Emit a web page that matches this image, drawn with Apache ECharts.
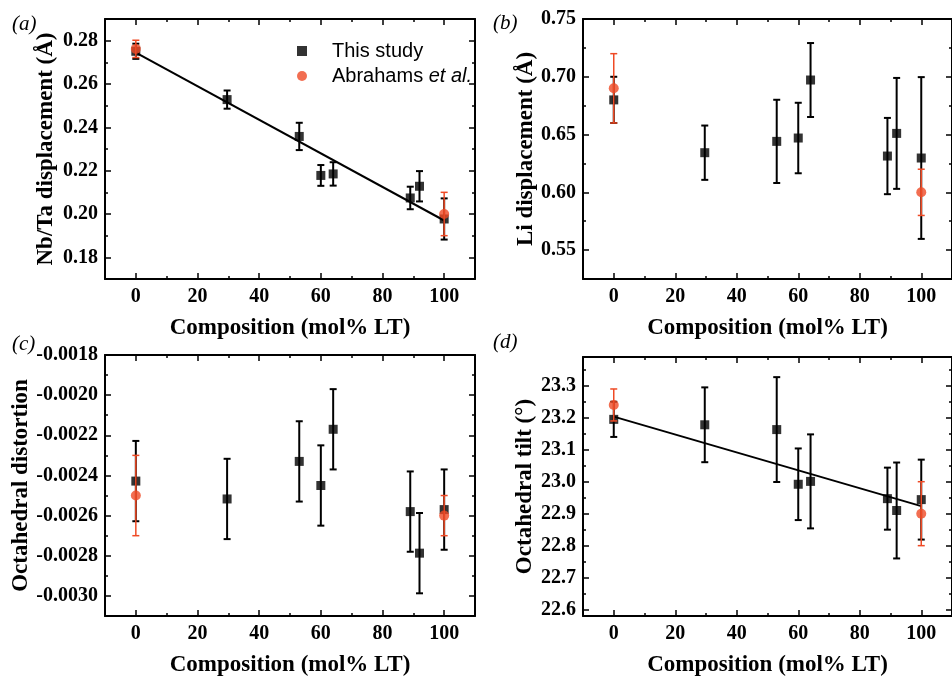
<!DOCTYPE html>
<html><head><meta charset="utf-8">
<script src="https://cdn.jsdelivr.net/npm/echarts@6/dist/echarts.min.js"></script>
<style>html,body{margin:0;padding:0;background:#fff}#c{width:952px;height:678px}</style>
</head><body><div id="c"></div>
<script>
// ---------- data ----------
const composition = [0, 29.6, 53, 60, 64, 89, 92, 100];
const abrahamsComposition = [0, 100];

const nbTaDisp    = [0.2751, 0.2528, 0.2358, 0.2178, 0.2185, 0.2074, 0.2128, 0.1977];
const nbTaErr     = [0.0035, 0.0042, 0.0063, 0.0048, 0.0054, 0.0052, 0.0070, 0.0095];
const abrNbTa     = [0.2762, 0.2000];
const abrNbTaErr  = [0.0040, 0.0100];
const nbTaFit     = [[0, 0.2745], [100, 0.1970]];

const liDisp      = [0.680, 0.6343, 0.6441, 0.647, 0.6972, 0.6314, 0.651, 0.6297];
const liErr       = [0.020, 0.0235, 0.036, 0.0305, 0.032, 0.033, 0.048, 0.070];
const abrLi       = [0.690, 0.600];
const abrLiErr    = [0.030, 0.020];

const octDist     = [-0.002428, -0.002517, -0.00233, -0.00245, -0.00217, -0.00258, -0.002787, -0.00257];
const octDistErr  = [0.0002, 0.0002, 0.0002, 0.0002, 0.0002, 0.0002, 0.0002, 0.0002];
const abrOct      = [-0.0025, -0.0026];
const abrOctErr   = [0.0002, 0.0001];

const tilt        = [23.195, 23.178, 23.163, 22.992, 23.001, 22.947, 22.910, 22.944];
const tiltErr     = [0.055, 0.117, 0.164, 0.112, 0.147, 0.097, 0.150, 0.125];
const abrTilt     = [23.24, 22.90];
const abrTiltErr  = [0.05, 0.10];
const tiltFit     = [[0, 23.2036], [100, 22.9236]];

// ---------- ticks ----------
const xTicks      = [0, 20, 40, 60, 80, 100];
const xMinor      = [10, 30, 50, 70, 90];
const nbTaTicks   = [0.18, 0.20, 0.22, 0.24, 0.26, 0.28];
const nbTaMinor   = [0.19, 0.21, 0.23, 0.25, 0.27];
const liTicks     = [0.55, 0.60, 0.65, 0.70, 0.75];
const liMinor     = [0.575, 0.625, 0.675, 0.725];
const octTicks    = [-0.0030, -0.0028, -0.0026, -0.0024, -0.0022, -0.0020, -0.0018];
const octMinor    = [-0.0029, -0.0027, -0.0025, -0.0023, -0.0021, -0.0019];
const tiltTicks   = [22.6, 22.7, 22.8, 22.9, 23.0, 23.1, 23.2, 23.3];
const tiltMinor   = [22.65, 22.75, 22.85, 22.95, 23.05, 23.15, 23.25, 23.35];

const xTitle = 'Composition (mol% LT)';
const names = ['This study', 'Abrahams et al.'];

// ---------- layout / style ----------
const SERIF = 'Liberation Serif';
const RED = '#EF4A25';
const panels = [
  {grid:{left:105, top:19, width:370, height:260}, ymin:0.17, ymax:0.29, major:nbTaTicks, minor:nbTaMinor, dec:2,
   yName:'Nb/Ta displacement (Å)', yGap:47, label:'(a)', lx:12, ly:14,
   y:nbTaDisp, e:nbTaErr, ay:abrNbTa, ae:abrNbTaErr, fit:nbTaFit},
  {grid:{left:583, top:19, width:372, height:260}, ymin:0.525, ymax:0.75, major:liTicks, minor:liMinor, dec:2,
   yName:'Li displacement (Å)', yGap:44, label:'(b)', lx:493, ly:13,
   y:liDisp, e:liErr, ay:abrLi, ae:abrLiErr, fit:null},
  {grid:{left:105, top:355, width:370, height:261}, ymin:-0.0031, ymax:-0.0018, major:octTicks, minor:octMinor, dec:4,
   yName:'Octahedral distortion', yGap:72, label:'(c)', lx:12, ly:334,
   y:octDist, e:octDistErr, ay:abrOct, ae:abrOctErr, fit:null},
  {grid:{left:583, top:357, width:372, height:259}, ymin:22.58, ymax:23.39, major:tiltTicks, minor:tiltMinor, dec:1,
   yName:'Octahedral tilt (°)', yGap:46, label:'(d)', lx:493, ly:332,
   y:tilt, e:tiltErr, ay:abrTilt, ae:abrTiltErr, fit:tiltFit}
];

const grids = [], xAxes = [], yAxes = [], series = [], graphics = [];
const lineStyle = {color:'#000', width:2};
const tickStyle = {color:'#000', width:1.5};
const noLine = {show:false, onZero:false};

function errSeries(ax, xs, ys, es, color, width, cap, z) {
  return {
    type:'custom', xAxisIndex:ax, yAxisIndex:ax, silent:true, z:z,
    encode:{x:0, y:[1,2]},
    data: xs.map((x,i)=>[x, ys[i]-es[i], ys[i]+es[i]]),
    renderItem(params, api) {
      const lo = api.coord([api.value(0), api.value(1)]);
      const hi = api.coord([api.value(0), api.value(2)]);
      const style = {stroke:color, lineWidth:width, fill:null};
      return {type:'group', children:[
        {type:'line', shape:{x1:lo[0], y1:lo[1], x2:hi[0], y2:hi[1]}, style},
        {type:'line', shape:{x1:lo[0]-cap, y1:lo[1], x2:lo[0]+cap, y2:lo[1]}, style},
        {type:'line', shape:{x1:hi[0]-cap, y1:hi[1], x2:hi[0]+cap, y2:hi[1]}, style}
      ]};
    }
  };
}

panels.forEach((p, gi) => {
  grids.push(Object.assign({containLabel:false}, p.grid));
  const base = gi*4;
  const xCommon = {type:'value', gridIndex:gi, min:-10, max:110, splitLine:{show:false}};
  const yCommon = {type:'value', gridIndex:gi, min:p.ymin, max:p.ymax, splitLine:{show:false}};
  // x axes
  xAxes.push(Object.assign({}, xCommon, {
    position:'bottom', name:xTitle, nameLocation:'middle', nameGap:38,
    nameTextStyle:{fontFamily:SERIF, fontWeight:'bold', fontSize:23, color:'#000'},
    axisLine:{onZero:false, lineStyle},
    axisTick:{inside:true, length:6, lineStyle:tickStyle, customValues:xTicks},
    axisLabel:{customValues:xTicks, fontFamily:SERIF, fontWeight:'bold', fontSize:20, color:'#000', margin:8,
               formatter:v=>String(v)}
  }));
  xAxes.push(Object.assign({}, xCommon, {position:'bottom', axisLine:noLine,
    axisTick:{inside:true, length:3, lineStyle:tickStyle, customValues:xMinor}, axisLabel:{show:false}}));
  xAxes.push(Object.assign({}, xCommon, {position:'top', axisLine:{onZero:false, lineStyle},
    axisTick:{inside:true, length:6, lineStyle:tickStyle, customValues:xTicks}, axisLabel:{show:false}}));
  xAxes.push(Object.assign({}, xCommon, {position:'top', axisLine:noLine,
    axisTick:{inside:true, length:3, lineStyle:tickStyle, customValues:xMinor}, axisLabel:{show:false}}));
  // y axes
  yAxes.push(Object.assign({}, yCommon, {
    position:'left', name:p.yName, nameLocation:'middle', nameGap:p.yGap,
    nameTextStyle:{fontFamily:SERIF, fontWeight:'bold', fontSize:23, color:'#000'},
    axisLine:{onZero:false, lineStyle},
    axisTick:{inside:true, length:6, lineStyle:tickStyle, customValues:p.major},
    axisLabel:{customValues:p.major, fontFamily:SERIF, fontWeight:'bold', fontSize:20, color:'#000', margin:7,
               formatter:v=>Number(v).toFixed(p.dec)}
  }));
  yAxes.push(Object.assign({}, yCommon, {position:'left', axisLine:noLine,
    axisTick:{inside:true, length:3, lineStyle:tickStyle, customValues:p.minor}, axisLabel:{show:false}}));
  yAxes.push(Object.assign({}, yCommon, {position:'right', axisLine:{onZero:false, lineStyle},
    axisTick:{inside:true, length:6, lineStyle:tickStyle, customValues:p.major}, axisLabel:{show:false}}));
  yAxes.push(Object.assign({}, yCommon, {position:'right', axisLine:noLine,
    axisTick:{inside:true, length:3, lineStyle:tickStyle, customValues:p.minor}, axisLabel:{show:false}}));

  // series
  series.push(errSeries(base, composition, p.y, p.e, '#000', 2, 3.5, 2));
  series.push({type:'scatter', name:names[0], xAxisIndex:base, yAxisIndex:base, symbol:'rect', symbolSize:9,
    itemStyle:{color:'#000'}, z:3, data:composition.map((x,i)=>[x, p.y[i]])});
  if (p.fit) {
    series.push({type:'line', xAxisIndex:base, yAxisIndex:base, showSymbol:false, symbol:'none', silent:true,
      lineStyle:{color:'#000', width:2}, z:4, data:p.fit});
  }
  series.push(errSeries(base, abrahamsComposition, p.ay, p.ae, RED, 1.5, 3.5, 5));
  series.push({type:'scatter', name:names[1], xAxisIndex:base, yAxisIndex:base, symbol:'circle', symbolSize:10,
    itemStyle:{color:RED}, z:6, data:abrahamsComposition.map((x,i)=>[x, p.ay[i]])});

  graphics.push({type:'text', left:p.lx, top:p.ly,
    style:{text:p.label, font:'italic 21px "Liberation Serif"', fill:'#000'}});
});

const chart = echarts.init(document.getElementById('c'), null, {renderer:'canvas'});
chart.setOption({
  backgroundColor:'#fff',
  animation:false,
  grid:grids, xAxis:xAxes, yAxis:yAxes, series:series, graphic:graphics,
  legend:{
    orient:'vertical', left:292, top:36, itemWidth:10, itemHeight:10, itemGap:5,
    selectedMode:false,
    data:[{name:names[0], icon:'rect'}, {name:names[1], icon:'circle'}],
    formatter: n => n === names[1] ? '{s| }{n|Abrahams }{i|et al.}' : '{s| }{n|' + n + '}',
    textStyle:{color:'#000', fontFamily:'Liberation Sans', fontSize:20, lineHeight:20,
      rich:{s:{width:20, fontSize:20},
            n:{fontFamily:'Liberation Sans', fontSize:20, color:'#000'},
            i:{fontFamily:'Liberation Sans', fontSize:20, fontStyle:'italic', color:'#000'}}}
  }
});
</script></body></html>
